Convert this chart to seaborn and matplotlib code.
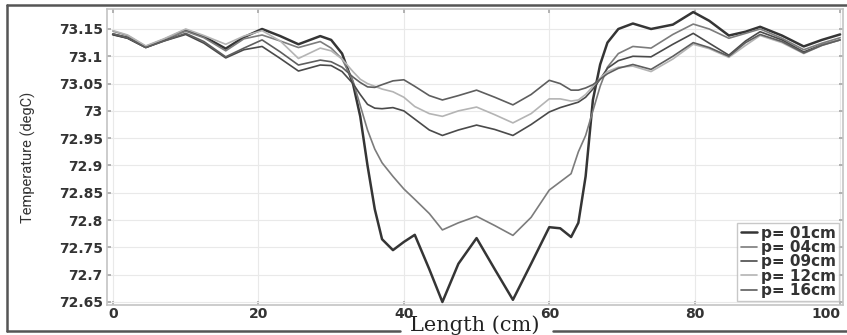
import numpy as np
import pandas as pd
import matplotlib
matplotlib.use("Agg")
import matplotlib.pyplot as plt
import seaborn as sns
from matplotlib.lines import Line2D

# ---------------- data ----------------
length_cm = [0, 2, 4.5, 7, 10, 12.5, 15.5, 18, 20.5, 23, 25.5, 28.5, 30, 31.5, 33, 34,
             35, 36, 37, 38.5, 40, 41.5, 43.5, 45.3, 47.5, 50, 52.5, 55, 57.5, 60, 61.5,
             63, 64, 65, 66, 67, 68, 69.5, 71.5, 74, 77, 79.8, 82, 84.7, 87, 89, 92, 95,
             97.5, 100]

temp_p01 = [73.140, 73.134, 73.117, 73.130, 73.148, 73.136, 73.114, 73.135, 73.150, 73.137,
            73.122, 73.137, 73.130, 73.105, 73.050, 72.990, 72.900, 72.820, 72.765, 72.745,
            72.760, 72.773, 72.710, 72.650, 72.720, 72.767, 72.710, 72.654, 72.720, 72.787,
            72.785, 72.769, 72.795, 72.880, 73.020, 73.085, 73.125, 73.150, 73.160, 73.150,
            73.158, 73.181, 73.165, 73.138, 73.145, 73.154, 73.138, 73.118, 73.130, 73.140]

temp_p04 = [73.146, 73.138, 73.118, 73.131, 73.146, 73.134, 73.110, 73.132, 73.139, 73.128,
            73.116, 73.127, 73.115, 73.095, 73.055, 73.010, 72.965, 72.930, 72.905, 72.880,
            72.857, 72.838, 72.812, 72.782, 72.795, 72.807, 72.790, 72.772, 72.805, 72.855,
            72.870, 72.885, 72.925, 72.955, 73.000, 73.045, 73.080, 73.105, 73.118, 73.115,
            73.140, 73.159, 73.150, 73.133, 73.142, 73.150, 73.133, 73.112, 73.124, 73.134]

temp_p09 = [73.140, 73.133, 73.116, 73.128, 73.140, 73.124, 73.097, 73.112, 73.118, 73.096,
            73.073, 73.084, 73.083, 73.072, 73.050, 73.030, 73.012, 73.005, 73.004, 73.006,
            73.000, 72.985, 72.965, 72.955, 72.965, 72.974, 72.966, 72.955, 72.975, 72.998,
            73.006, 73.012, 73.016, 73.025, 73.040, 73.058, 73.078, 73.092, 73.100, 73.099,
            73.122, 73.142, 73.124, 73.102, 73.128, 73.145, 73.130, 73.108, 73.121, 73.130]

temp_p12 = [73.147, 73.139, 73.119, 73.132, 73.150, 73.138, 73.122, 73.137, 73.147, 73.128,
            73.096, 73.115, 73.110, 73.095, 73.072, 73.058, 73.050, 73.045, 73.040, 73.035,
            73.025, 73.008, 72.995, 72.990, 73.000, 73.007, 72.993, 72.978, 72.995, 73.022,
            73.022, 73.018, 73.020, 73.030, 73.045, 73.060, 73.072, 73.080, 73.082, 73.072,
            73.095, 73.122, 73.114, 73.098, 73.120, 73.138, 73.125, 73.105, 73.120, 73.130]

temp_p16 = [73.141, 73.134, 73.116, 73.128, 73.142, 73.127, 73.099, 73.115, 73.130, 73.108,
            73.084, 73.093, 73.090, 73.080, 73.062, 73.052, 73.044, 73.043, 73.048, 73.055,
            73.057, 73.045, 73.028, 73.020, 73.028, 73.038, 73.025, 73.011, 73.030, 73.056,
            73.050, 73.038, 73.038, 73.042, 73.048, 73.058, 73.068, 73.078, 73.085, 73.076,
            73.100, 73.125, 73.116, 73.100, 73.125, 73.140, 73.127, 73.106, 73.120, 73.130]

series_labels = ["p= 01cm", "p= 04cm", "p= 09cm", "p= 12cm", "p= 16cm"]
y_ticks = [72.65, 72.7, 72.75, 72.8, 72.85, 72.9, 72.95, 73.0, 73.05, 73.1, 73.15]
y_tick_labels = ["72.65", "72.7", "72.75", "72.8", "72.85", "72.9", "72.95", "73",
                 "73.05", "73.1", "73.15"]
x_ticks = [0, 20, 40, 60, 80, 100]

# ---------------- styling ----------------
sns.set_theme(style="white")
plt.rcParams["font.family"] = ["DejaVu Sans"]

W, H = 847, 335
fig = plt.figure(figsize=(W / 100, H / 100), dpi=100)
ax = fig.add_axes([107 / W, 1 - 305 / H, (843 - 107) / W, (305 - 9) / H])

colors = ["#353535", "#7c7c7c", "#4a4a4a", "#b4b4b4", "#5e5e5e"]
widths = [1.8, 1.2, 1.2, 1.2, 1.2]
all_series = [temp_p01, temp_p04, temp_p09, temp_p12, temp_p16]

for lab, ys, c, lw in zip(series_labels, all_series, colors, widths):
    df = pd.DataFrame({"Length": length_cm, "Temp": ys})
    sns.lineplot(data=df, x="Length", y="Temp", ax=ax, color=c, linewidth=lw,
                 label=lab, estimator=None, sort=False)

ax.set_xlim(-0.83, 100.4)
ax.set_ylim(72.6445, 73.1866)
ax.set_xticks(x_ticks)
ax.set_xticklabels([str(t) for t in x_ticks])
ax.set_yticks(y_ticks)
ax.set_yticklabels(y_tick_labels)
for lbl in ax.get_xticklabels() + ax.get_yticklabels():
    lbl.set_fontweight("bold")
ax.get_xticklabels()[-1].set_horizontalalignment("right")
ax.grid(True, color="#e9e9e9", linewidth=0.8)
ax.tick_params(axis="both", which="both", direction="in", length=3, color="#aaaaaa",
               labelsize=10, labelcolor="#333333", left=True, bottom=True, right=True, top=True)
ax.tick_params(axis="y", pad=3)
ax.tick_params(axis="x", pad=1.5)
for s in ax.spines.values():
    s.set_color("#c4c4c4")
    s.set_linewidth(1.2)

ax.set_xlabel("")
ax.set_ylabel("Temperature (degC)", family=["Liberation Sans Narrow", "Roboto", "DejaVu Sans"],
              fontsize=10.5, color="#333333")
ax.yaxis.set_label_coords((36 - 107) / 736, 0.5)

leg = ax.legend(loc="lower right", prop={"size": 11, "weight": "bold"}, frameon=True,
                fancybox=False, labelspacing=-0.04, handlelength=1.1, handletextpad=0.25,
                borderpad=0.2, borderaxespad=0.25, edgecolor="#bbbbbb")
leg.get_frame().set_linewidth(1.0)
for t in leg.get_texts():
    t.set_color("#333333")

# outer frame of the figure (bottom edge broken by the x label)
def fpx(x, y):
    return x / W, 1 - y / H

frame_kw = dict(color="#555555", linewidth=1.8, transform=fig.transFigure)
for (x0, y0), (x1, y1) in [((7, 5), (W + 2, 5)), ((7, 5), (7, 331)),
                           ((7, 331), (400, 331)), ((553, 331), (W + 2, 331))]:
    a = fpx(x0, y0)
    b = fpx(x1, y1)
    fig.lines.append(Line2D([a[0], b[0]], [a[1], b[1]], **frame_kw))

fig.text(475 / W, 1 - 325 / H, "Length (cm)", family="DejaVu Serif", fontsize=15,
         ha="center", va="center", color="#222222")

fig.savefig("out.png", dpi=100)
